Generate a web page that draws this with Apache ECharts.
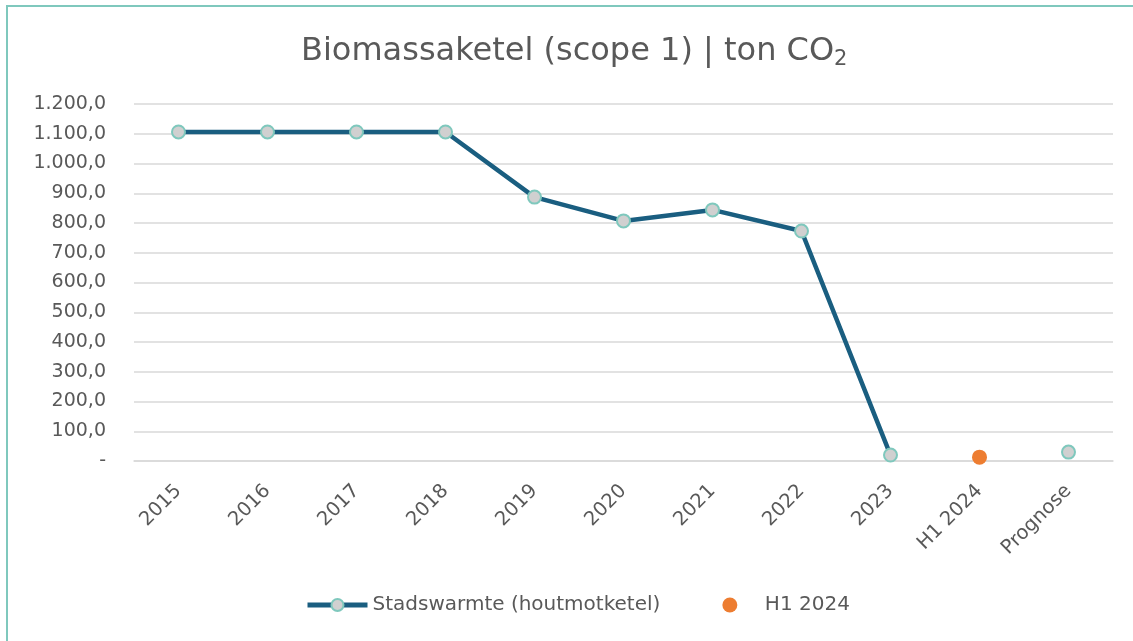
<!DOCTYPE html>
<html>
<head>
<meta charset="utf-8">
<script src="https://cdn.jsdelivr.net/npm/echarts@6/dist/echarts.min.js"></script>
<style>
  html, body { margin: 0; padding: 0; background: #fff; overflow: hidden; }
  #frame { position: absolute; left: 6px; top: 5px; width: 1140px; height: 650px;
           border-left: 2px solid #7fc8bd; border-top: 2px solid #7fc8bd; }
  #chart { position: absolute; left: 0; top: 0; width: 1133px; height: 641px; }
</style>
</head>
<body>
<div id="frame"></div>
<div id="chart"></div>
<script>
var categories = ['2015', '2016', '2017', '2018', '2019', '2020', '2021', '2022', '2023', 'H1 2024', 'Prognose'];
var stadswarmte = [1106, 1106, 1106, 1106, 887, 807, 844, 773, 20, null, 30];
var h1_2024 = [null, null, null, null, null, null, null, null, null, 13, null];

function fmt(v) {
  if (v === 0) return '-';
  var s = v.toFixed(1).split('.');
  var intPart = s[0].replace(/\B(?=(\d{3})+(?!\d))/g, '.');
  return intPart + ',' + s[1];
}

var chart = echarts.init(document.getElementById('chart'));
chart.setOption({
  backgroundColor: 'transparent',
  animation: false,
  title: {
    text: 'Biomassaketel (scope 1) | ton CO{sub|2}',
    left: 296,
    top: 28,
    textStyle: {
      fontFamily: 'DejaVu Sans',
      fontSize: 32,
      fontWeight: 'normal',
      color: '#595959',
      rich: {
        sub: { fontFamily: 'DejaVu Sans', fontSize: 21, color: '#595959', verticalAlign: 'bottom', padding: [16, 0, 0, 0] }
      }
    }
  },
  grid: { left: 134, right: 20, top: 104, bottom: 180, containLabel: false },
  legend: {
    bottom: 21,
    left: 300,
    itemGap: 62,
    itemWidth: 60,
    itemHeight: 15,
    textStyle: { fontFamily: 'DejaVu Sans', fontSize: 20, color: '#595959' },
    data: [
      { name: 'Stadswarmte (houtmotketel)', lineStyle: { width: 5 } },
      { name: 'H1 2024', icon: 'circle' }
    ]
  },
  xAxis: {
    type: 'category',
    data: categories,
    boundaryGap: true,
    axisLine: { lineStyle: { color: '#d9d9d9', width: 1.5 } },
    axisTick: { show: false },
    axisLabel: { rotate: 45, fontFamily: 'DejaVu Sans', fontSize: 19.5, color: '#595959', margin: 27, interval: 0 }
  },
  yAxis: {
    type: 'value',
    min: 0,
    max: 1200,
    interval: 100,
    axisLine: { show: false },
    axisTick: { show: false },
    splitLine: { lineStyle: { color: '#d9d9d9', width: 1.5 } },
    axisLabel: { fontFamily: 'DejaVu Sans', fontSize: 19, color: '#595959', margin: 28, formatter: fmt }
  },
  series: [
    {
      name: 'Stadswarmte (houtmotketel)',
      type: 'line',
      data: stadswarmte,
      connectNulls: false,
      symbol: 'circle',
      symbolSize: 13,
      lineStyle: { color: '#1a5e80', width: 4.5 },
      itemStyle: { color: '#d0d0d0', borderColor: '#7fc8bd', borderWidth: 2 },
      z: 3
    },
    {
      name: 'H1 2024',
      type: 'line',
      data: h1_2024,
      symbol: 'circle',
      symbolSize: 15,
      showSymbol: true,
      lineStyle: { width: 0 },
      itemStyle: { color: '#ed7d31' },
      z: 4
    }
  ]
});
</script>
</body>
</html>
